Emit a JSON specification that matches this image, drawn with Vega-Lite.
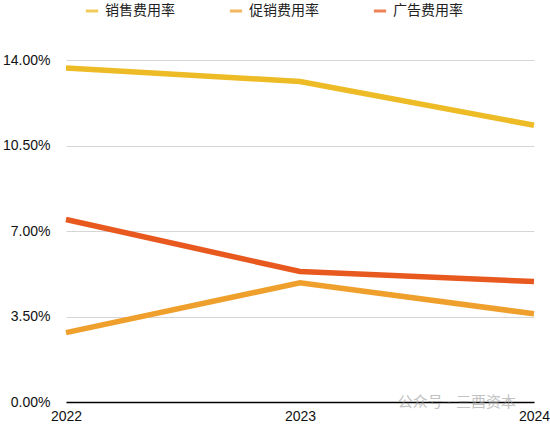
{
  "$schema": "https://vega.github.io/schema/vega-lite/v6.json",
  "autosize": {"type": "none"},
  "width": 468,
  "height": 342,
  "padding": {"left": 66, "top": 60, "right": 16, "bottom": 23},
  "background": "white",
  "config": {
    "font": "Liberation Sans, Noto Sans CJK SC",
    "view": {"stroke": null}
  },
  "data": {
    "values": [
      {"year": "2022", "series": "销售费用率", "rate": 0.1367},
      {"year": "2023", "series": "销售费用率", "rate": 0.1312},
      {"year": "2024", "series": "销售费用率", "rate": 0.1133},
      {"year": "2022", "series": "促销费用率", "rate": 0.0284},
      {"year": "2023", "series": "促销费用率", "rate": 0.0488},
      {"year": "2024", "series": "促销费用率", "rate": 0.0361},
      {"year": "2022", "series": "广告费用率", "rate": 0.0747},
      {"year": "2023", "series": "广告费用率", "rate": 0.0534},
      {"year": "2024", "series": "广告费用率", "rate": 0.0493}
    ]
  },
  "layer": [
    {
      "mark": {"type": "line", "strokeWidth": 5.5, "strokeCap": "butt"},
      "encoding": {
        "x": {
          "field": "year",
          "type": "ordinal",
          "scale": {"type": "point", "padding": 0},
          "axis": {
            "title": null,
            "labelAngle": 0,
            "labelFontSize": 14,
            "labelColor": "#111",
            "labelPadding": 7,
            "ticks": false,
            "tickSize": 0,
            "domainColor": "#000",
            "domainWidth": 1.5,
            "grid": false
          }
        },
        "y": {
          "field": "rate",
          "type": "quantitative",
          "scale": {"domain": [0, 0.14], "nice": false},
          "axis": {
            "title": null,
            "values": [0, 0.035, 0.07, 0.105, 0.14],
            "format": ".2%",
            "labelFontSize": 14,
            "labelColor": "#111",
            "labelPadding": 16,
            "ticks": false,
            "tickSize": 0,
            "domain": false,
            "grid": true,
            "gridColor": "#d6d6d6",
            "gridWidth": 1
          }
        },
        "color": {
          "field": "series",
          "type": "nominal",
          "scale": {
            "domain": ["销售费用率", "促销费用率", "广告费用率"],
            "range": ["#EDBB26", "#EFA02C", "#E8591F"]
          },
          "legend": {
            "title": null,
            "orient": "none",
            "legendX": 18,
            "legendY": -57,
            "direction": "horizontal",
            "columns": 3,
            "columnPadding": 48,
            "symbolType": "stroke",
            "symbolStrokeWidth": 3,
            "symbolSize": 150,
            "symbolOpacity": 0.75,
            "labelFontSize": 14,
            "labelColor": "#222",
            "labelOffset": 5
          }
        }
      }
    },
    {
      "data": {"values": [{"year": "2024", "rate": 0, "mark": "公众号 · 三酉资本"}]},
      "mark": {
        "type": "text",
        "align": "right",
        "baseline": "middle",
        "dx": -18,
        "fontSize": 15,
        "color": "#9a9a9a",
        "opacity": 0.6
      },
      "encoding": {
        "x": {"field": "year", "type": "ordinal"},
        "y": {"field": "rate", "type": "quantitative"},
        "text": {"field": "mark", "type": "nominal"}
      }
    }
  ]
}
